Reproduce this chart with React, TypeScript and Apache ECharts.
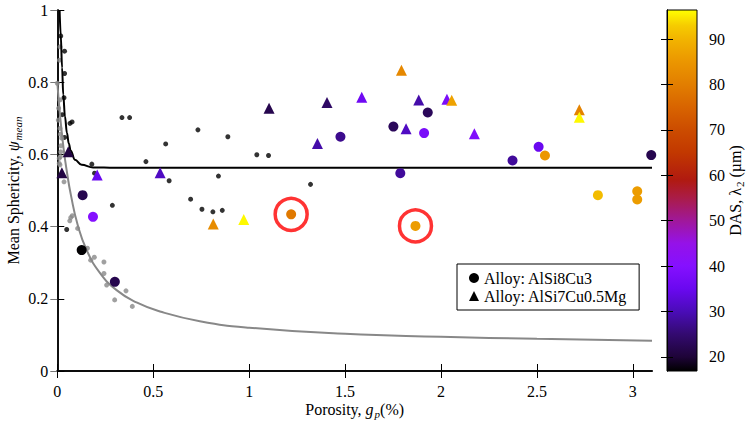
import React, { useEffect, useRef } from "react";
import * as echarts from "echarts";

const xTicks = [0, 0.5, 1, 1.5, 2, 2.5, 3];
const yTicks = [0, 0.2, 0.4, 0.6, 0.8, 1];
const dasTicks = [20, 30, 40, 50, 60, 70, 80, 90];

// literature data (black) and its fit
const blackDots = [
  [0.018, 0.928], [0.038, 0.886], [0.038, 0.824], [0.035, 0.757], [0.026, 0.71],
  [0.066, 0.686], [0.077, 0.69], [0.038, 0.647], [0.049, 0.392], [0.18, 0.573],
  [0.194, 0.548], [0.287, 0.459], [0.337, 0.702], [0.377, 0.702], [0.462, 0.58],
  [0.565, 0.629], [0.583, 0.527], [0.695, 0.476], [0.733, 0.668], [0.754, 0.448],
  [0.811, 0.441], [0.84, 0.54], [0.86, 0.445], [0.889, 0.649], [1.04, 0.599],
  [1.101, 0.597], [1.32, 0.517],
];
const blackFit = [
  [0.012, 1.0], [0.018, 0.93], [0.025, 0.84], [0.031, 0.765], [0.04, 0.705],
  [0.05, 0.66], [0.06, 0.63], [0.07, 0.61], [0.092, 0.585], [0.127, 0.571],
  [0.186, 0.564], [0.3, 0.563], [3.1, 0.563],
];

// second data set (gray) and its fit
const grayDots = [
  [0.0, 0.797], [0.014, 0.898], [0.011, 0.861], [0.014, 0.751], [0.007, 0.728],
  [0.005, 0.695], [0.014, 0.672], [0.016, 0.656], [0.023, 0.645], [0.019, 0.624],
  [0.018, 0.607], [0.016, 0.594], [0.01, 0.589], [0.01, 0.575], [0.014, 0.571],
  [0.035, 0.524], [0.078, 0.43], [0.07, 0.425], [0.065, 0.416], [0.106, 0.395],
  [0.157, 0.34], [0.174, 0.307], [0.193, 0.315], [0.243, 0.302], [0.243, 0.27],
  [0.257, 0.238], [0.299, 0.254], [0.299, 0.197], [0.358, 0.222], [0.391, 0.179],
];
const grayFit = [
  [0.0, 0.8], [0.014, 0.71], [0.033, 0.615], [0.052, 0.545], [0.07, 0.49],
  [0.106, 0.405], [0.153, 0.335], [0.222, 0.272], [0.309, 0.224], [0.413, 0.19],
  [0.535, 0.165], [0.743, 0.138], [1.0, 0.12], [1.5, 0.103], [2.0, 0.095],
  [2.5, 0.089], [3.1, 0.084],
];

// [porosity, sphericity, DAS]
const alSi8Cu3 = [
  [0.127, 0.335, 17], [0.132, 0.487, 22], [0.186, 0.427, 40], [0.3, 0.247, 22],
  [1.219, 0.434, 79], [1.476, 0.649, 27], [1.752, 0.677, 23], [1.931, 0.716, 23],
  [1.912, 0.659, 38], [1.788, 0.548, 28], [1.867, 0.402, 86], [2.373, 0.583, 28],
  [2.509, 0.621, 35], [2.542, 0.597, 85], [3.096, 0.598, 22], [2.818, 0.487, 91],
  [3.023, 0.498, 86], [3.023, 0.475, 86],
];
const alSi7Cu05Mg = [
  [0.057, 0.607, 21], [0.024, 0.549, 21], [0.208, 0.543, 35], [0.536, 0.549, 31],
  [0.813, 0.407, 83], [0.972, 0.42, 96], [1.104, 0.728, 22], [1.406, 0.744, 24],
  [1.356, 0.63, 29], [1.587, 0.758, 36], [1.794, 0.833, 82], [1.884, 0.751, 29],
  [1.818, 0.671, 31], [2.031, 0.753, 38], [2.056, 0.75, 87], [2.174, 0.657, 39],
  [2.721, 0.724, 81], [2.721, 0.703, 96],
];
const highlighted = [
  [1.219, 0.434],
  [1.867, 0.402],
];

const dasMin = 16.9;
const dasMax = 96.4;
const dasStops: [number, string][] = [
  [16.9, "#000000"], [20, "#1e0438"], [25, "#330a70"], [30, "#4a0cb8"],
  [35, "#6a08f0"], [40, "#8510ff"], [45, "#9512e8"], [50, "#a0189a"],
  [55, "#aa1c48"], [59, "#b01a10"], [65, "#c23800"], [70, "#cc4c00"],
  [75, "#d86400"], [80, "#e27e00"], [85, "#eb9600"], [90, "#f2b400"],
  [93, "#f6cc00"], [96.4, "#ffff00"],
];

const FONT = "Liberation Serif";

function hexToRgb(h: string) {
  const n = parseInt(h.slice(1), 16);
  return [(n >> 16) & 255, (n >> 8) & 255, n & 255];
}
function dasColor(v: number) {
  if (v <= dasStops[0][0]) return dasStops[0][1];
  for (let i = 1; i < dasStops.length; i++) {
    if (v <= dasStops[i][0]) {
      const [v0, c0] = dasStops[i - 1];
      const [v1, c1] = dasStops[i];
      const t = (v - v0) / (v1 - v0);
      const a = hexToRgb(c0);
      const b = hexToRgb(c1);
      const m = a.map((x, k) => Math.round(x + (b[k] - x) * t));
      return `rgb(${m[0]},${m[1]},${m[2]})`;
    }
  }
  return dasStops[dasStops.length - 1][1];
}

export default function App() {
  const ref = useRef<HTMLDivElement>(null);
  useEffect(() => {
    if (!ref.current) return;
    const chart = echarts.init(ref.current, undefined, { renderer: "svg" });
    const gradient = new echarts.graphic.LinearGradient(
      0, 1, 0, 0,
      dasStops.map(([v, c]) => ({ offset: (v - dasMin) / (dasMax - dasMin), color: c }))
    );
    const axisLine = { show: true, lineStyle: { color: "#000", width: 1.5 } };
    const tickStyle = { color: "#000", width: 1 };
    const label = { fontFamily: FONT, fontSize: 16, color: "#000", fontWeight: "normal" };
    const sub = { fontFamily: FONT, fontSize: 11, color: "#000", padding: [7, 0, 0, 1], verticalAlign: "top" as const };
    const norm = { fontFamily: FONT, fontSize: 16, color: "#000", verticalAlign: "top" as const, lineHeight: 16 };
    const ital = { ...norm, fontStyle: "italic" as const };

    const option: any = {
      animation: false,
      backgroundColor: "#fff",
      textStyle: { fontFamily: FONT },
      grid: [
        { left: 57.3, top: 10, right: 94, bottom: 55, containLabel: false, outerBoundsMode: "none" },
        {
          left: 667, top: 10, width: 30, height: 361, containLabel: false, outerBoundsMode: "none",
          show: true, backgroundColor: gradient, borderColor: "#000", borderWidth: 1,
        },
      ],
      xAxis: [
        {
          type: "value", gridIndex: 0, min: xTicks[0], max: 3.1, interval: 0.5, position: "bottom",
          axisLine: { show: true, lineStyle: { color: "#333", width: 2 } },
          axisTick: { show: true, inside: true, length: 7, lineStyle: tickStyle },
          axisLabel: { ...label, margin: 12, showMaxLabel: false },
          splitLine: { show: false },
          name: "{n|Porosity, }{i|g}{s|p}{n|(%)}",
          nameLocation: "middle", nameGap: 30, nameMoveOverlap: false,
          nameTextStyle: { fontFamily: FONT, rich: { n: norm, i: ital, s: { ...sub, fontStyle: "italic" } } },
        },
        {
          type: "value", gridIndex: 0, min: 0, max: 3.1, position: "top",
          axisLine,
          axisTick: { show: true, inside: true, length: 7, customValues: xTicks, lineStyle: tickStyle },
          axisLabel: { show: false },
          splitLine: { show: false },
        },
        {
          type: "value", gridIndex: 1, min: 0, max: 1, show: false,
        },
      ],
      yAxis: [
        {
          type: "value", gridIndex: 0, min: yTicks[0], max: 1, interval: 0.2, position: "left",
          axisLine,
          axisTick: { show: true, inside: true, length: 7, lineStyle: tickStyle },
          axisLabel: { ...label, margin: 9 },
          splitLine: { show: false },
          name: "{n|Mean Sphericity, }{i|ψ}{s|mean}",
          nameLocation: "middle", nameGap: 34, nameRotate: 90, nameMoveOverlap: false,
          nameTextStyle: { fontFamily: FONT, rich: { n: norm, i: ital, s: { ...sub, fontStyle: "italic" } } },
        },
        {
          type: "value", gridIndex: 0, min: 0, max: 1, position: "right",
          axisLine,
          axisTick: { show: true, inside: true, length: 7, customValues: yTicks, lineStyle: { color: "#777", width: 1 } },
          axisLabel: { show: false },
          splitLine: { show: false },
        },
        {
          type: "value", gridIndex: 1, min: dasMin, max: dasMax, position: "right",
          axisLine: { show: true, lineStyle: { color: "#000", width: 1 } },
          axisTick: { show: true, inside: true, length: 6, customValues: dasTicks, lineStyle: tickStyle },
          axisLabel: { ...label, margin: 12, customValues: dasTicks },
          splitLine: { show: false },
          name: "{n|DAS, λ}{s|2}{n| (µm)}",
          nameLocation: "middle", nameGap: 30, nameRotate: 90, nameMoveOverlap: false,
          nameTextStyle: { fontFamily: FONT, rich: { n: norm, s: sub } },
        },
        {
          type: "value", gridIndex: 1, min: dasMin, max: dasMax, position: "left",
          axisLine: { show: true, lineStyle: { color: "#000", width: 1 } },
          axisTick: { show: true, inside: true, length: 6, customValues: dasTicks, lineStyle: tickStyle },
          axisLabel: { show: false },
          splitLine: { show: false },
        },
      ],
      legend: {
        show: true, orient: "vertical", left: 457, top: 264,
        padding: [6, 12, 6, 12], itemGap: 2, itemWidth: 10, itemHeight: 10,
        borderColor: "#000", borderWidth: 1, backgroundColor: "#fff",
        selectedMode: false,
        textStyle: { fontFamily: FONT, fontSize: 16, color: "#000" },
        data: [
          { name: "Alloy: AlSi8Cu3", icon: "circle", itemStyle: { color: "#000" } },
          { name: "Alloy: AlSi7Cu0.5Mg", icon: "triangle", itemStyle: { color: "#000" } },
        ],
      },
      series: [
        {
          type: "scatter", name: "lit-black", data: blackDots, symbolSize: 5,
          itemStyle: { color: "#000" }, z: 2,
        },
        {
          type: "scatter", name: "lit-gray", data: grayDots, symbolSize: 5,
          itemStyle: { color: "#888" }, z: 2,
        },
        {
          type: "line", name: "fit-black", data: blackFit, showSymbol: false, symbol: "none",
          smooth: 0.4, smoothMonotone: "x", clip: true,
          lineStyle: { color: "#000", width: 2 }, z: 3,
        },
        {
          type: "line", name: "fit-gray", data: grayFit, showSymbol: false, symbol: "none",
          smooth: 0.5, clip: true,
          lineStyle: { color: "#888", width: 2 }, z: 3,
        },
        {
          type: "scatter", name: "Alloy: AlSi8Cu3", data: alSi8Cu3, symbol: "circle", symbolSize: 10,
          itemStyle: { color: (p: any) => dasColor(p.data[2]), opacity: 1 }, z: 4,
        },
        {
          type: "scatter", name: "Alloy: AlSi7Cu0.5Mg", data: alSi7Cu05Mg, symbol: "triangle", symbolSize: 11,
          itemStyle: { color: (p: any) => dasColor(p.data[2]), opacity: 1 }, z: 4,
        },
        {
          type: "scatter", name: "highlight", data: highlighted, symbol: "circle", symbolSize: 32,
          itemStyle: { color: "rgba(0,0,0,0)", borderColor: "#ff0000", borderWidth: 3.5 }, z: 5,
        },
      ],
    };
    chart.setOption(option);
    return () => chart.dispose();
  }, []);
  return <div ref={ref} style={{ width: 746, height: 426, position: "absolute", left: 0, top: 0 }} />;
}
